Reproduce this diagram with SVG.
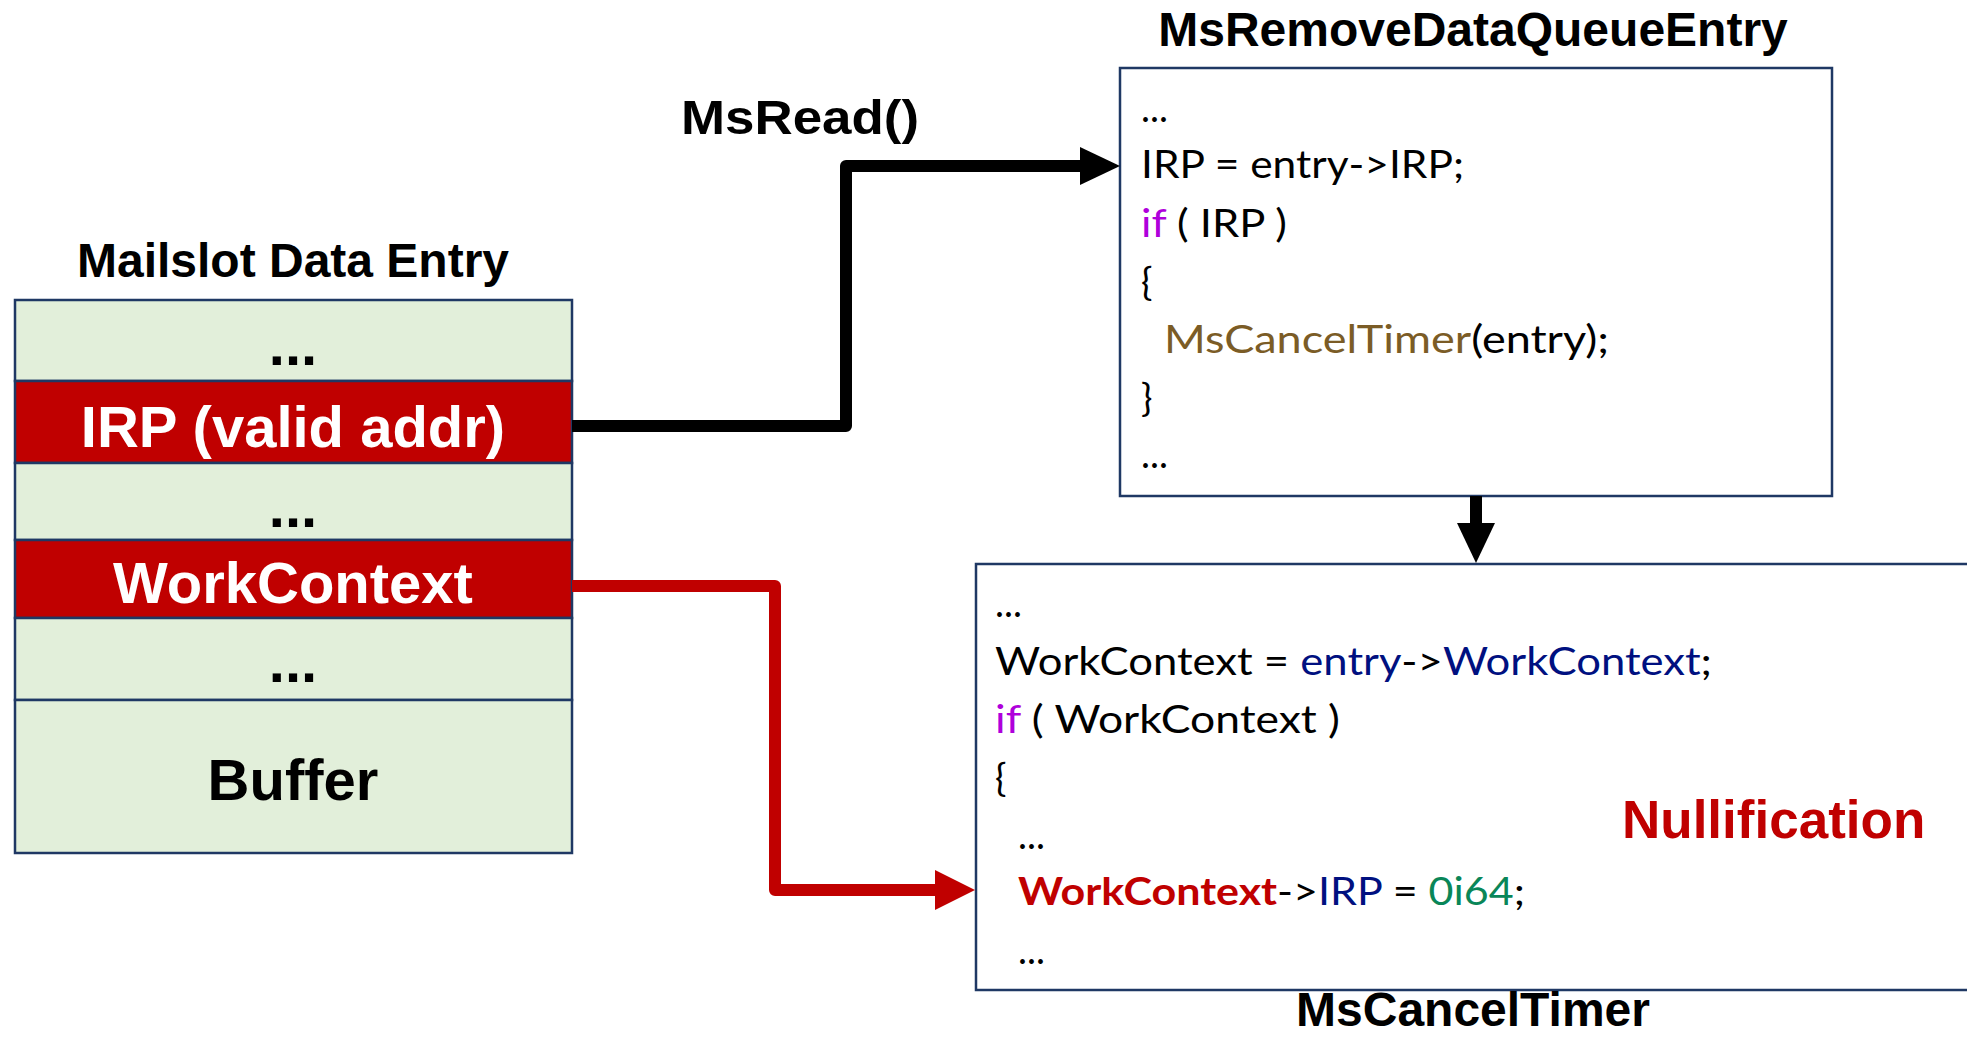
<svg xmlns="http://www.w3.org/2000/svg" width="1967" height="1037" viewBox="0 0 1967 1037">
  <style>
    .title { font-family: "Liberation Sans", Arial, sans-serif; font-weight: bold; font-size: 48px; fill: #000; }
    .cell { font-family: "Liberation Sans", Arial, sans-serif; font-weight: bold; font-size: 58px; text-anchor: middle; }
    .dark { fill: #000; }
    .light { fill: #fff; }
    .row-plain { fill: #e2efda; stroke: #1f3864; stroke-width: 2.5; }
    .row-hot { fill: #c00000; stroke: #1f3864; stroke-width: 2.5; }
    .box { fill: #fff; stroke: #1f3864; stroke-width: 2.5; }
    .code { font-family: Lato, "Open Sans", sans-serif; font-size: 38px; fill: #000; }
    .kw { fill: #af00db; }
    .fn { fill: #7b5c26; }
    .var { fill: #001080; }
    .num { fill: #098658; }
    .hot { fill: #c00000; font-weight: bold; }
    .wire { fill: none; stroke-width: 12; stroke-linejoin: round; }
  </style>
  <defs>
    <marker id="head-black" viewBox="0 0 40 40" markerWidth="40" markerHeight="40" refX="5" refY="20" orient="auto" markerUnits="userSpaceOnUse">
      <path d="M0,1 L40,20 L0,39 Z" fill="#000"/>
    </marker>
    <marker id="head-red" viewBox="0 0 40 40" markerWidth="40" markerHeight="40" refX="5" refY="20" orient="auto" markerUnits="userSpaceOnUse">
      <path d="M0,0 L40,20 L0,40 Z" fill="#c00000"/>
    </marker>
  </defs>

  <rect width="1967" height="1037" fill="#fff"/>

  <!-- Mailslot data entry layout -->
  <g id="mailslot-entry">
    <text class="title" x="293" y="277" text-anchor="middle">Mailslot Data Entry</text>
    <rect class="row-plain" x="15" y="300" width="557" height="81"/>
    <rect class="row-hot" x="15" y="381" width="557" height="82"/>
    <rect class="row-plain" x="15" y="463" width="557" height="77"/>
    <rect class="row-hot" x="15" y="540" width="557" height="78"/>
    <rect class="row-plain" x="15" y="618" width="557" height="82"/>
    <rect class="row-plain" x="15" y="700" width="557" height="153"/>
    <text class="cell dark" x="293" y="365">...</text>
    <text class="cell light" x="293" y="447">IRP (valid addr)</text>
    <text class="cell dark" x="293" y="527">...</text>
    <text class="cell light" x="293" y="603">WorkContext</text>
    <text class="cell dark" x="293" y="682">...</text>
    <text class="cell dark" x="293" y="800">Buffer</text>
  </g>

  <!-- MsRemoveDataQueueEntry code -->
  <g id="remove-entry">
    <text class="title" x="1473" y="46" text-anchor="middle">MsRemoveDataQueueEntry</text>
    <rect class="box" x="1120" y="68" width="712" height="428"/>
    <text class="code" x="1141" y="122">...</text>
    <text class="code" x="1141" y="178" textLength="323" lengthAdjust="spacingAndGlyphs">IRP = entry-&gt;IRP;</text>
    <text class="code" x="1141" y="237" textLength="146" lengthAdjust="spacingAndGlyphs"><tspan class="kw">if</tspan> ( IRP )</text>
    <text class="code" x="1141" y="295">{</text>
    <text class="code" x="1164" y="353" textLength="445" lengthAdjust="spacingAndGlyphs"><tspan class="fn">MsCancelTimer</tspan>(entry);</text>
    <text class="code" x="1141" y="411">}</text>
    <text class="code" x="1141" y="468">...</text>
  </g>

  <!-- MsCancelTimer code -->
  <g id="cancel-timer">
    <rect class="box" x="976" y="564" width="1000" height="426"/>
    <text class="code" x="995" y="617">...</text>
    <text class="code" x="995" y="675" textLength="717" lengthAdjust="spacingAndGlyphs">WorkContext = <tspan class="var">entry</tspan>-&gt;<tspan class="var">WorkContext</tspan>;</text>
    <text class="code" x="995" y="733" textLength="345" lengthAdjust="spacingAndGlyphs"><tspan class="kw">if</tspan> ( WorkContext )</text>
    <text class="code" x="995" y="791">{</text>
    <text class="code" x="1018" y="849">...</text>
    <text class="code" x="1018" y="905" textLength="507" lengthAdjust="spacingAndGlyphs"><tspan class="hot">WorkContext</tspan>-&gt;<tspan class="var">IRP</tspan> = <tspan class="num">0i64</tspan>;</text>
    <text class="code" x="1018" y="964">...</text>
    <text class="title" x="1473" y="1026" text-anchor="middle">MsCancelTimer</text>
  </g>

  <g id="nullification-label">
    <text x="1622" y="838" font-family="Liberation Sans, Arial, sans-serif" font-weight="bold" font-size="53" fill="#c00000">Nullification</text>
  </g>

  <!-- Connectors -->
  <g id="connectors">
    <path class="wire" stroke="#000" d="M572,426 H846 V166 H1085" marker-end="url(#head-black)"/>
    <text class="title" x="681" y="134" font-size="55" textLength="238" lengthAdjust="spacingAndGlyphs">MsRead()</text>
    <path class="wire" stroke="#000" stroke-width="13" d="M1476,496 V528" marker-end="url(#head-black)"/>
    <path class="wire" stroke="#c00000" d="M572,586 H775 V890 H940" marker-end="url(#head-red)"/>
  </g>
</svg>
